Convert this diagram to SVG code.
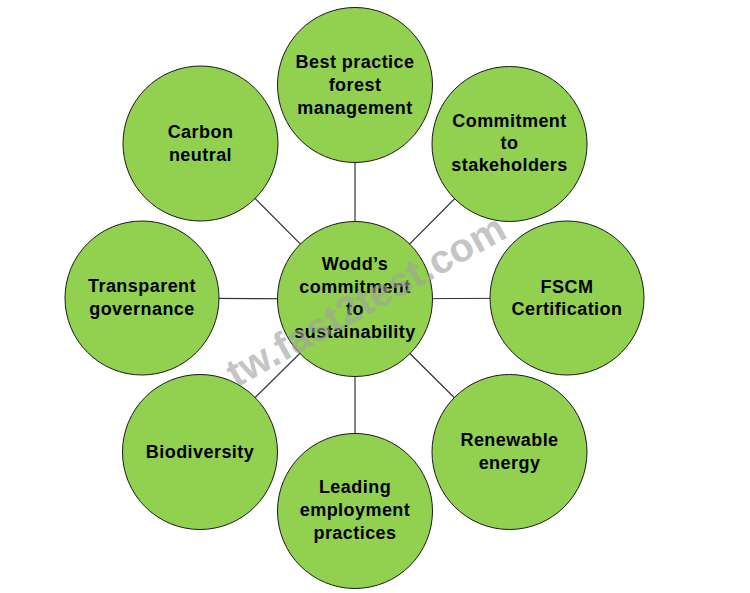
<svg xmlns="http://www.w3.org/2000/svg" width="750" height="593" viewBox="0 0 750 593">
<style>
.n circle{fill:#92D050;stroke:#1a1a1a;stroke-width:1}
.n text{font-family:"Liberation Sans",Arial,sans-serif;font-weight:bold;font-size:18px;letter-spacing:0.45px;fill:#000;text-anchor:middle}
.c line{stroke:#333;stroke-width:1.2}
.wm{font-family:"Liberation Sans",Arial,sans-serif;font-weight:bold;font-size:40px;fill:#a0a0a0;opacity:0.6}
</style>
<rect width="750" height="593" fill="#fff"/>
<g id="connectors" class="c">
<line x1="355" y1="299" x2="355" y2="85"/>
<line x1="355" y1="299" x2="509" y2="144"/>
<line x1="355" y1="299" x2="567" y2="298"/>
<line x1="355" y1="299" x2="509" y2="452"/>
<line x1="355" y1="299" x2="355" y2="511"/>
<line x1="355" y1="299" x2="200" y2="452"/>
<line x1="355" y1="299" x2="142" y2="298"/>
<line x1="355" y1="299" x2="200" y2="143"/>
</g>
<g id="n-top" class="n"><circle cx="355" cy="85" r="77.5"/>
<text x="355" y="68">Best practice</text><text x="355" y="91">forest</text><text x="355" y="114">management</text></g>
<g id="n-commit" class="n"><circle cx="509.5" cy="144" r="77.5"/>
<text x="509.5" y="127">Commitment</text><text x="509.5" y="149">to</text><text x="509.5" y="171">stakeholders</text></g>
<g id="n-fscm" class="n"><circle cx="567" cy="298" r="77"/>
<text x="567" y="293">FSCM</text><text x="567" y="315">Certification</text></g>
<g id="n-renew" class="n"><circle cx="509.5" cy="452" r="77.5"/>
<text x="509.5" y="446">Renewable</text><text x="509.5" y="469">energy</text></g>
<g id="n-lead" class="n"><circle cx="355" cy="511" r="77.5"/>
<text x="355" y="493">Leading</text><text x="355" y="516">employment</text><text x="355" y="539">practices</text></g>
<g id="n-bio" class="n"><circle cx="200" cy="452" r="77.5"/>
<text x="200" y="458">Biodiversity</text></g>
<g id="n-transp" class="n"><circle cx="142" cy="298" r="77"/>
<text x="142" y="292">Transparent</text><text x="142" y="315">governance</text></g>
<g id="n-carbon" class="n"><circle cx="200.5" cy="143.5" r="77.5"/>
<text x="200.5" y="138">Carbon</text><text x="200.5" y="161">neutral</text></g>
<g id="n-center" class="n"><circle cx="355" cy="299" r="77.5"/>
<text x="355" y="270">Wodd’s</text><text x="355" y="293">commitment</text><text x="355" y="315">to</text><text x="355" y="338">sustainability</text></g>
<text class="wm" transform="translate(236,388) rotate(-29)">tw.fast2test.com</text>
</svg>
